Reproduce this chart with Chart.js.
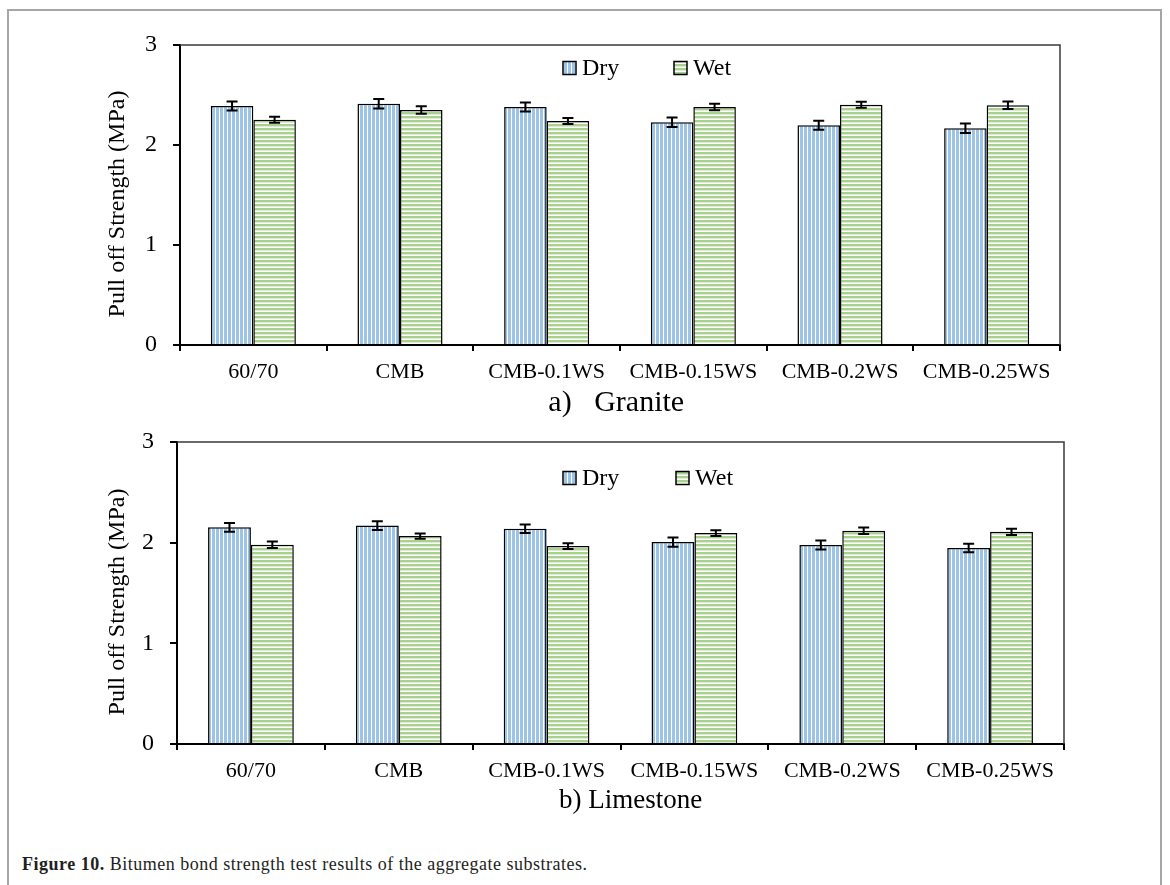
<!DOCTYPE html>
<html>
<head>
<meta charset="utf-8">
<script src="https://cdn.jsdelivr.net/npm/chart.js@4.4.1/dist/chart.umd.min.js"></script>
<style>
  html, body { margin: 0; padding: 0; background: #fff; width: 1170px; height: 885px; overflow: hidden; }
  #frame { position: absolute; left: 7px; top: 9px; width: 1155px; height: 900px; border: 2px solid #a6a6a6; box-sizing: border-box; }
  .panel { position: absolute; left: 0; width: 1170px; }
  #panelA { top: 0; height: 425px; }
  #panelB { top: 400px; height: 435px; }
  #caption { position: absolute; left: 22px; top: 854px; font-family: 'Liberation Serif', 'Times New Roman', serif; font-size: 18px; letter-spacing: 0.5px; color: #231f20; white-space: nowrap; }
</style>
</head>
<body>
<div id="frame"></div>
<div class="panel" id="panelA"><canvas id="granite" width="1170" height="425"></canvas></div>
<div class="panel" id="panelB"><canvas id="limestone" width="1170" height="435"></canvas></div>
<div id="caption"><b>Figure 10.</b> Bitumen bond strength test results of the aggregate substrates.</div>

<script>
// Binder categories and test conditions
const categories = ['60/70', 'CMB', 'CMB-0.1WS', 'CMB-0.15WS', 'CMB-0.2WS', 'CMB-0.25WS'];
const seriesNames = ['Dry', 'Wet'];
const yTicks = [0, 1, 2, 3];

// Pull-off strength (MPa) on granite, with standard deviation
const graniteDry    = [2.39, 2.413, 2.38, 2.227, 2.197, 2.167];
const graniteDryErr = [0.045, 0.048, 0.045, 0.047, 0.045, 0.047];
const graniteWet    = [2.253, 2.35, 2.24, 2.38, 2.403, 2.397];
const graniteWetErr = [0.03, 0.037, 0.03, 0.033, 0.03, 0.037];

// Pull-off strength (MPa) on limestone, with standard deviation
const limestoneDry    = [2.152, 2.17, 2.138, 2.006, 1.976, 1.946];
const limestoneDryErr = [0.043, 0.043, 0.043, 0.046, 0.045, 0.042];
const limestoneWet    = [1.979, 2.066, 1.966, 2.095, 2.118, 2.108];
const limestoneWetErr = [0.033, 0.026, 0.028, 0.028, 0.033, 0.031];

const SERIF = "'Liberation Serif', 'Times New Roman', serif";
const NBSP = '\u00a0';
Chart.defaults.font.family = SERIF;
Chart.defaults.color = '#000';

// Striped fills: vertical blue for dry, horizontal green for wet
function stripes(vertical) {
  const c = document.createElement('canvas');
  const g = c.getContext('2d');
  if (vertical) {
    c.width = 4; c.height = 1;
    g.fillStyle = '#ffffff'; g.fillRect(0, 0, 4, 1);
    g.fillStyle = '#9dc3e6'; g.fillRect(0, 0, 3, 1);
  } else {
    c.width = 1; c.height = 4;
    g.fillStyle = '#ffffff'; g.fillRect(0, 0, 1, 4);
    g.fillStyle = '#a9d18e'; g.fillRect(0, 0, 1, 2);
    g.fillStyle = '#dcebd1'; g.fillRect(0, 2, 1, 1);
  }
  return g.createPattern(c, 'repeat');
}
const dryFill = stripes(true);
const wetFill = stripes(false);

// Error bars with caps, from each dataset's "errors" array
const errorBars = {
  id: 'errorBars',
  afterDatasetsDraw(chart) {
    const ctx = chart.ctx, y = chart.scales.y;
    chart.data.datasets.forEach((ds, i) => {
      chart.getDatasetMeta(i).data.forEach((bar, j) => {
        const v = ds.data[j], e = ds.errors[j];
        const t = y.getPixelForValue(v + e), b = y.getPixelForValue(v - e);
        ctx.save();
        ctx.strokeStyle = '#000';
        ctx.lineWidth = 2;
        ctx.beginPath();
        ctx.moveTo(bar.x, t); ctx.lineTo(bar.x, b);
        ctx.moveTo(bar.x - 5.5, t); ctx.lineTo(bar.x + 5.5, t);
        ctx.moveTo(bar.x - 5.5, b); ctx.lineTo(bar.x + 5.5, b);
        ctx.stroke();
        ctx.restore();
      });
    });
  }
};

// Top and right edges of the plot box
const plotBox = {
  id: 'plotBox',
  afterDraw(chart) {
    const { left, top, right, bottom } = chart.chartArea;
    const ctx = chart.ctx;
    ctx.save();
    ctx.strokeStyle = '#3a3a3a';
    ctx.lineWidth = 1.5;
    ctx.beginPath();
    ctx.moveTo(left, top); ctx.lineTo(right, top); ctx.lineTo(right, bottom);
    ctx.stroke();
    ctx.restore();
  }
};

// Legend drawn inside the plot area
const insideLegend = {
  id: 'insideLegend',
  afterDraw(chart, args, opts) {
    const ctx = chart.ctx;
    const y = chart.chartArea.top + opts.offsetY;
    ctx.save();
    ctx.font = '24px ' + SERIF;
    ctx.textBaseline = 'middle';
    ctx.textAlign = 'left';
    chart.data.datasets.forEach((ds, i) => {
      const bx = opts.x[i];
      ctx.fillStyle = ds.backgroundColor;
      ctx.fillRect(bx, y - 6.5, 13, 13);
      ctx.strokeStyle = '#000';
      ctx.lineWidth = 1.5;
      ctx.strokeRect(bx, y - 6.5, 13, 13);
      ctx.fillStyle = '#000';
      ctx.fillText(ds.label, bx + 19, y + 1);
    });
    ctx.restore();
  }
};

function makeChart(id, dry, dryErr, wet, wetErr, cfg) {
  return new Chart(document.getElementById(id), {
    type: 'bar',
    data: {
      labels: categories,
      datasets: [
        { label: seriesNames[0], data: dry, errors: dryErr, backgroundColor: dryFill,
          borderColor: '#000', borderWidth: 1.5, categoryPercentage: 0.58, barPercentage: 1.0 },
        { label: seriesNames[1], data: wet, errors: wetErr, backgroundColor: wetFill,
          borderColor: '#000', borderWidth: 1.5, categoryPercentage: 0.58, barPercentage: 1.0 }
      ]
    },
    options: {
      responsive: false,
      animation: false,
      devicePixelRatio: 1,
      layout: { padding: { left: 0, top: cfg.padTop, right: cfg.padRight, bottom: 0 } },
      plugins: {
        legend: { display: false },
        tooltip: { enabled: false },
        insideLegend: { x: cfg.legendX, offsetY: cfg.legendY }
      },
      scales: {
        x: {
          grid: { display: true, drawOnChartArea: false, drawTicks: true, tickLength: 6,
                  color: '#000', lineWidth: 2, offset: true },
          border: { display: true, color: '#000', width: 2 },
          ticks: { color: '#000', font: { size: 22 }, padding: 8, maxRotation: 0, autoSkip: false },
          title: { display: true, text: cfg.title, color: '#000', font: { size: cfg.titleSize },
                   padding: { top: 0, bottom: cfg.titlePad } },
          afterFit(s) { s.height = cfg.xHeight; }
        },
        y: {
          min: 0, max: 3,
          afterBuildTicks(s) { s.ticks = yTicks.map(v => ({ value: v })); },
          grid: { display: true, drawOnChartArea: false, drawTicks: true, tickLength: 7,
                  color: '#000', lineWidth: 2 },
          border: { display: true, color: '#000', width: 2 },
          ticks: { color: '#000', font: { size: 24 }, padding: 16 },
          title: { display: true, text: 'Pull off Strength (MPa)' + NBSP.repeat(3), color: '#000',
                   font: { size: 24 }, padding: { top: cfg.yTitlePad, bottom: 0 } },
          afterFit(s) { s.width = cfg.yWidth; }
        }
      }
    },
    plugins: [plotBox, errorBars, insideLegend]
  });
}

makeChart('granite', graniteDry, graniteDryErr, graniteWet, graniteWetErr, {
  padTop: 45, padRight: 110, yWidth: 180, xHeight: 80, titlePad: 4, yTitlePad: 103,
  title: 'a)   Granite' + NBSP, titleSize: 30, legendX: [563, 674], legendY: 23
});
makeChart('limestone', limestoneDry, limestoneDryErr, limestoneWet, limestoneWetErr, {
  padTop: 42, padRight: 106, yWidth: 177, xHeight: 91, titlePad: 18, yTitlePad: 103,
  title: NBSP.repeat(3) + 'b) Limestone', titleSize: 27, legendX: [563, 676], legendY: 36
});
</script>
</body>
</html>
